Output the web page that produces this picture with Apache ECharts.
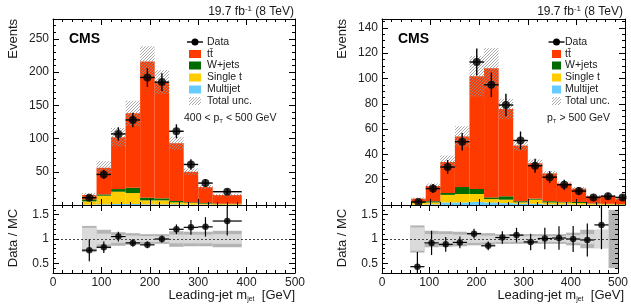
<!DOCTYPE html>
<html>
<head>
<meta charset="utf-8">
<script src="https://cdn.jsdelivr.net/npm/echarts@6/dist/echarts.min.js"></script>
<style>
html,body{margin:0;padding:0;background:#fff}
#chart{width:631px;height:304px}
</style>
</head>
<body>
<div id="chart"></div>
<script>
// ---- left panel: 400 < pT < 500 GeV ----
var binLoA = [60, 90, 120, 150, 180, 210, 240, 270, 300, 330];
var binHiA = [90, 120, 150, 180, 210, 240, 270, 300, 330, 390];
var dataA = [11, 46, 107, 128, 192, 185, 111, 61, 33, 20];
var dataErrA = [3.5, 7, 10, 11, 14, 13.5, 10.5, 8, 6, 4.5];
var multijetA = [0.5, 1, 1.5, 1.5, 1, 1, 1, 0.5, 0.5, 0.3];
var singleTA = [5, 13, 18.5, 16.5, 6, 6, 3, 2.5, 1.5, 1];
var wjetsA = [3, 2, 4, 8, 4, 3, 2, 1, 1, 0.7];
var ttbarA = [6.5, 40, 78, 112, 205, 175, 87, 46, 24, 13];
var uncA = [3, 10, 14, 19, 23, 18, 10, 5, 3, 2];
var ratioA = [0.77, 0.83, 1.05, 0.92, 0.88, 1.0, 1.2, 1.24, 1.25, 1.37];
var ratioErrA = [0.23, 0.12, 0.1, 0.08, 0.07, 0.07, 0.1, 0.15, 0.2, 0.3];
var bandDarkA = [0.27, 0.19, 0.14, 0.12, 0.1, 0.1, 0.16, 0.15, 0.15, 0.17];
var bandLightA = [0.23, 0.11, 0.08, 0.07, 0.06, 0.06, 0.09, 0.09, 0.09, 0.1];

// ---- right panel: pT > 500 GeV ----
var binLoB = [60, 90, 120, 150, 180, 210, 240, 270, 300, 330, 360, 390, 420, 450, 480];
var binHiB = [90, 120, 150, 180, 210, 240, 270, 300, 330, 360, 390, 420, 450, 480, 510];
var dataB = [2.4, 13, 30, 50, 113, 95, 79, 51, 31, 22, 16, 11, 6, 7, 6];
var dataErrB = [1.5, 3.6, 5.5, 7, 10.6, 9.7, 8.9, 7.1, 5.6, 4.7, 4, 3.3, 2.4, 2.6, 2.4];
var multijetB = [0.3, 0.5, 2, 2, 2.5, 2, 1.5, 1, 1, 0.5, 0.5, 0.3, 0.2, 0.2, 0.1];
var singleTB = [1.5, 1.5, 6, 6.7, 6.2, 2.7, 2.7, 1.1, 3.2, 1.5, 1.5, 1.3, 0.8, 0.5, 0.4];
var wjetsB = [0.5, 1, 1.5, 5.5, 4, 1.3, 2.7, 0.9, 0.8, 1, 0.4, 0.8, 0.3, 0.3, 0.2];
var ttbarB = [2.7, 12, 24.5, 40, 89, 102, 69, 44, 28, 22, 14.6, 10.6, 5.7, 6, 4.3];
var uncB = [1, 2, 5, 8, 16, 16, 8, 4, 3, 2, 1.5, 1.2, 0.8, 0.8, 1];
var ratioB = [0.43, 0.92, 0.89, 0.93, 1.11, 0.86, 1.03, 1.08, 0.94, 1.01, 1.02, 1.0, 0.98, 1.29];
var ratioErrB = [0.3, 0.25, 0.15, 0.12, 0.1, 0.09, 0.13, 0.15, 0.17, 0.22, 0.24, 0.27, 0.34, 0.5];
var bandDarkB = [0.28, 0.17, 0.16, 0.15, 0.13, 0.12, 0.1, 0.1, 0.1, 0.1, 0.1, 0.13, 0.19, 0.19, 0.6];
var bandLightB = [0.24, 0.1, 0.1, 0.09, 0.08, 0.07, 0.06, 0.06, 0.06, 0.06, 0.06, 0.08, 0.1, 0.19, 0];

// ticks
var xTicks = [0, 100, 200, 300, 400, 500];
var ratioTicks = [0.5, 1, 1.5];

var FONT = 'Liberation Sans, Arial, Helvetica, sans-serif';
var colors = { multijet: '#66ccff', singleT: '#ffcc00', wjets: '#006b00', ttbar: '#ff3a00' };

// fine diagonal hatching, 3px period
function makeHatch() {
  var c = document.createElement('canvas');
  c.width = 3; c.height = 3;
  var g = c.getContext('2d');
  g.fillStyle = 'rgba(150,150,150,0.8)';
  for (var i = 0; i < 3; i++) g.fillRect(i, 2 - i, 1, 1);
  return c;
}
var hatchFill = { image: makeHatch(), repeat: 'repeat' };

var xAxes = [], yAxes = [], series = [];

function addFrame(grid, xr, yr) {
  var res = {};
  ['bottom', 'top'].forEach(function (pos, k) {
    [0, 1].forEach(function (minor) {
      var ax = {
        gridIndex: grid, type: 'value', min: xr.min, max: xr.max, position: pos,
        axisLine: { show: !minor, onZero: false, lineStyle: { color: '#000', width: 1 } },
        axisTick: { show: true, inside: true, length: minor ? 3 : 6, lineStyle: { color: '#000', width: 1 } },
        axisLabel: { show: !minor && k === 0 && xr.labels, margin: 4, fontFamily: FONT, fontSize: 12, color: '#222',
          showMinLabel: true, showMaxLabel: true },
        splitLine: { show: false }, z: 10
      };
      ax.interval = minor ? xr.minor : xr.major;
      if (k === 0 && !minor) res.x = xAxes.length;
      xAxes.push(ax);
    });
  });
  ['left', 'right'].forEach(function (pos, k) {
    [0, 1].forEach(function (minor) {
      var ax = {
        gridIndex: grid, type: 'value', min: yr.min, max: yr.max, position: pos,
        axisLine: { show: !minor, onZero: false, lineStyle: { color: '#000', width: 1 } },
        axisTick: { show: true, inside: true, length: minor ? 3 : 6, lineStyle: { color: '#000', width: 1 } },
        axisLabel: { show: !minor && k === 0, margin: 4, fontFamily: FONT, fontSize: 12, color: '#222',
          formatter: yr.fmt },
        splitLine: { show: false }, z: 10
      };
      if (minor) ax.interval = yr.minor;
      else if (yr.values) {
        ax.axisTick.customValues = yr.values;
        ax.axisLabel.customValues = yr.values;
      } else ax.interval = yr.major;
      if (k === 0 && !minor) res.y = yAxes.length;
      yAxes.push(ax);
    });
  });
  return res;
}

function rectItem(fill) {
  return function (params, api) {
    var p0 = api.coord([api.value(0), api.value(3)]);
    var p1 = api.coord([api.value(1), api.value(2)]);
    var cs = params.coordSys;
    var shape = echarts.graphic.clipRectByRect(
      { x: p0[0], y: p0[1], width: p1[0] - p0[0], height: p1[1] - p0[1] },
      { x: cs.x, y: cs.y, width: cs.width, height: cs.height });
    if (!shape) return;
    return { type: 'rect', shape: shape, style: { fill: fill } };
  };
}

function errItem(lw) {
  return function (params, api) {
    var x = api.value(0), y = api.value(1), lo = api.value(2), hi = api.value(3), e = api.value(4);
    var a = api.coord([lo, y]), b = api.coord([hi, y]);
    var t = api.coord([x, y + e]), d = api.coord([x, y - e]);
    var st = { stroke: '#000', lineWidth: lw };
    return { type: 'group', children: [
      { type: 'line', shape: { x1: a[0], y1: a[1], x2: b[0], y2: b[1] }, style: st },
      { type: 'line', shape: { x1: t[0], y1: t[1], x2: d[0], y2: d[1] }, style: st }
    ] };
  };
}

function addTop(ax, lo, hi, comps, data, dataErr, unc) {
  var base = lo.map(function () { return 0; });
  var order = [['multijet', comps[0]], ['singleT', comps[1]], ['wjets', comps[2]], ['ttbar', comps[3]]];
  order.forEach(function (o) {
    var rows = lo.map(function (l, i) {
      var r = [l, hi[i], base[i], base[i] + o[1][i]];
      base[i] += o[1][i];
      return r;
    });
    series.push({ type: 'custom', xAxisIndex: ax.x, yAxisIndex: ax.y, clip: true, z: 2,
      renderItem: rectItem(colors[o[0]]), data: rows });
  });
  series.push({ type: 'custom', xAxisIndex: ax.x, yAxisIndex: ax.y, clip: true, z: 3,
    renderItem: rectItem(hatchFill),
    data: lo.map(function (l, i) { return [l, hi[i], base[i] - unc[i], base[i] + unc[i]]; }) });
  series.push({ type: 'custom', xAxisIndex: ax.x, yAxisIndex: ax.y, clip: true, z: 4,
    renderItem: errItem(1.4),
    data: data.map(function (v, i) { return [(lo[i] + hi[i]) / 2, v, lo[i], hi[i], dataErr[i]]; }) });
  series.push({ type: 'scatter', xAxisIndex: ax.x, yAxisIndex: ax.y, z: 5, symbolSize: 8,
    itemStyle: { color: '#000' },
    data: data.map(function (v, i) { return [(lo[i] + hi[i]) / 2, v]; }) });
}

function addRatio(ax, lo, hi, ratio, ratioErr, dark, light) {
  series.push({ type: 'custom', xAxisIndex: ax.x, yAxisIndex: ax.y, clip: true, z: 2,
    renderItem: rectItem('#b4b4b4'),
    data: lo.map(function (l, i) { return [l, hi[i], 1 - dark[i], 1 + dark[i]]; }) });
  series.push({ type: 'custom', xAxisIndex: ax.x, yAxisIndex: ax.y, clip: true, z: 3,
    renderItem: rectItem('#dadada'),
    data: lo.map(function (l, i) { return [l, hi[i], 1 - light[i], 1 + light[i]]; }),
    markLine: { silent: true, symbol: ['none', 'none'], label: { show: false },
      lineStyle: { type: [2, 2], color: '#444', width: 1 }, data: [{ yAxis: 1 }] } });
  series.push({ type: 'custom', xAxisIndex: ax.x, yAxisIndex: ax.y, clip: true, z: 4,
    renderItem: errItem(1.2),
    data: ratio.map(function (v, i) { return [(lo[i] + hi[i]) / 2, v, lo[i], hi[i], ratioErr[i]]; }) });
  series.push({ type: 'scatter', xAxisIndex: ax.x, yAxisIndex: ax.y, z: 5, symbolSize: 6.5,
    itemStyle: { color: '#000' },
    data: ratio.map(function (v, i) { return [(lo[i] + hi[i]) / 2, v]; }) });
}

var grids = [
  { left: 53, width: 242, top: 19, height: 186 },
  { left: 53, width: 242, top: 205, height: 68 },
  { left: 382, width: 243, top: 19, height: 186 },
  { left: 382, width: 243, top: 205, height: 68 }
];

var xTop = { min: 0, max: 500, major: 100, minor: 20, labels: false };
var xBot = { min: 0, max: 500, major: 100, minor: 20, labels: true };
var yRatio = { min: 0.3, max: 1.7, values: ratioTicks, minor: 0.1 };

var ax0 = addFrame(0, xTop, { min: 0, max: 280, major: 50, minor: 10,
  fmt: function (v) { return (v > 0 && v % 50 === 0) ? String(v) : ''; } });
var ax1 = addFrame(1, xBot, yRatio);
var ax2 = addFrame(2, xTop, { min: 0, max: 147, major: 20, minor: 5,
  fmt: function (v) { return (v > 0 && v % 20 === 0) ? String(v) : ''; } });
var ax3 = addFrame(3, xBot, yRatio);

addTop(ax0, binLoA, binHiA, [multijetA, singleTA, wjetsA, ttbarA], dataA, dataErrA, uncA);
addRatio(ax1, binLoA, binHiA, ratioA, ratioErrA, bandDarkA, bandLightA);
addTop(ax2, binLoB, binHiB, [multijetB, singleTB, wjetsB, ttbarB], dataB, dataErrB, uncB);
addRatio(ax3, binLoB, binHiB, ratioB, ratioErrB, bandDarkB, bandLightB);

// ---- texts and legends ----
var graphics = [];
function text(x, y, str, size, extra) {
  var st = { text: str, fontFamily: FONT, fontSize: size, fill: '#1a1a1a', align: 'left', verticalAlign: 'middle' };
  var el = { type: 'text', x: x, y: y, z: 20, style: st };
  for (var k in extra || {}) {
    if (k === 'rotation') el.rotation = extra[k]; else st[k] = extra[k];
  }
  return el;
}
var supRich = { sup: { fontFamily: FONT, fontSize: 8, padding: [0, 0, 7, 0] } };
var subRich = { sub: { fontFamily: FONT, fontSize: 7, padding: [8, 0, 0, 0] } };

function panelTexts(x0, x1, legendX, sqW, textX, region) {
  graphics.push(text(x1 - 1, 12, '19.7 fb{sup|-1} (8 TeV)', 12, { align: 'right', rich: supRich }));
  graphics.push(text(x0 + 16, 39, 'CMS', 14, { fontWeight: 'bold', fill: '#000' }));
  graphics.push(text(x0 - 40, 19, 'Events', 13, { align: 'right', rotation: Math.PI / 2 }));
  graphics.push(text(x0 - 40, 238, 'Data / MC', 13, { align: 'center', rotation: Math.PI / 2 }));
  graphics.push(text(x1, 295, 'Leading-jet m{sub|jet}  [GeV]', 13, { align: 'right', rich: subRich }));
  var rows = [42, 54, 65.5, 77.5, 89.5, 101];
  var cx = legendX + sqW / 2;
  graphics.push({ type: 'line', z: 20, shape: { x1: cx - 8, y1: rows[0], x2: cx + 8, y2: rows[0] }, style: { stroke: '#000', lineWidth: 1.4 } });
  graphics.push({ type: 'circle', z: 21, shape: { cx: cx, cy: rows[0], r: 3.5 }, style: { fill: '#000' } });
  var fills = [colors.ttbar, colors.wjets, colors.singleT, colors.multijet, hatchFill];
  fills.forEach(function (f, i) {
    graphics.push({ type: 'rect', z: 20, shape: { x: legendX, y: rows[i + 1] - 4, width: sqW, height: 8 }, style: { fill: f } });
  });
  var labels = ['Data', 't\u0074\u0304', 'W+jets', 'Single t', 'Multijet', 'Total unc.'];
  labels.forEach(function (l, i) { graphics.push(text(textX, rows[i], l, 10.5)); });
  graphics.push(text(region.x, 118, region.t, 10.5, { rich: { sub: { fontFamily: FONT, fontSize: 6, padding: [7, 0, 0, 0] } } }));
}
panelTexts(53, 295, 189, 12, 207, { x: 184, t: '400 < p{sub|T} < 500 GeV' });
panelTexts(382, 624, 552, 9, 565, { x: 547, t: 'p{sub|T} > 500 GeV' });

var chart = echarts.init(document.getElementById('chart'), null, { renderer: 'canvas' });
chart.setOption({
  animation: false,
  backgroundColor: '#fff',
  grid: grids,
  xAxis: xAxes,
  yAxis: yAxes,
  series: series,
  graphic: graphics
});
</script>
</body>
</html>
